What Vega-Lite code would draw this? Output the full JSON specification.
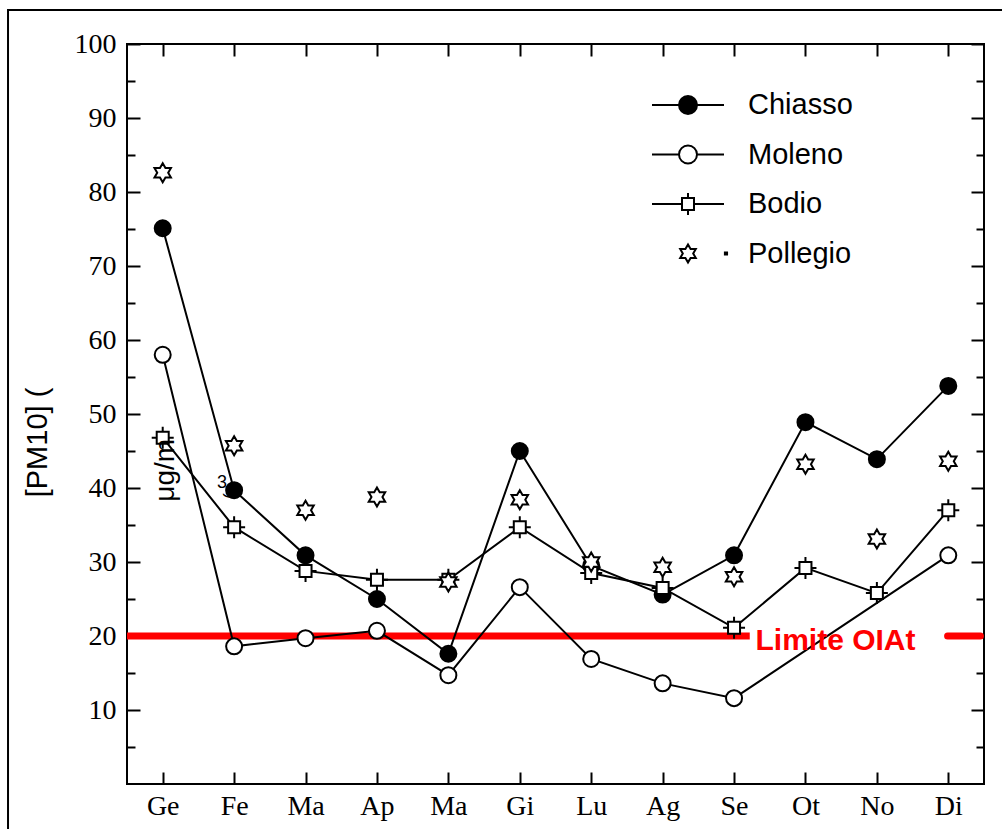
{
  "$schema": "https://vega.github.io/schema/vega-lite/v6.json",
  "width": 857,
  "height": 740,
  "autosize": {"type": "none"},
  "padding": {"left": 127, "top": 44, "right": 18, "bottom": 45},
  "background": "white",
  "config": {
    "view": {"stroke": "black", "strokeWidth": 2},
    "axis": {"domain": false, "grid": false, "tickColor": "black", "tickWidth": 2, "labelColor": "black", "labelFont": "Liberation Serif", "labelFontSize": 28, "titleColor": "black"},
    "legend": {"title": null, "orient": "none", "legendX": 542, "legendY": 42, "symbolSize": 1296, "symbolStrokeWidth": 2, "symbolStrokeColor": "black", "symbolOpacity": 1, "labelFont": "Liberation Sans", "labelFontSize": 29, "labelColor": "black", "labelOffset": 41, "rowPadding": 15.5, "labelLimit": 300}
  },
  "data": {"values": [
    {"s": "Chiasso", "m": 1, "v": 75.1}, {"s": "Chiasso", "m": 2, "v": 39.7}, {"s": "Chiasso", "m": 3, "v": 30.9}, {"s": "Chiasso", "m": 4, "v": 25.0}, {"s": "Chiasso", "m": 5, "v": 17.6}, {"s": "Chiasso", "m": 6, "v": 45.0}, {"s": "Chiasso", "m": 7, "v": 29.5}, {"s": "Chiasso", "m": 8, "v": 25.6}, {"s": "Chiasso", "m": 9, "v": 30.9}, {"s": "Chiasso", "m": 10, "v": 48.9}, {"s": "Chiasso", "m": 11, "v": 43.9}, {"s": "Chiasso", "m": 12, "v": 53.8},
    {"s": "Moleno", "m": 1, "v": 58.0}, {"s": "Moleno", "m": 2, "v": 18.6}, {"s": "Moleno", "m": 3, "v": 19.7}, {"s": "Moleno", "m": 4, "v": 20.7}, {"s": "Moleno", "m": 5, "v": 14.7}, {"s": "Moleno", "m": 6, "v": 26.6}, {"s": "Moleno", "m": 7, "v": 16.9}, {"s": "Moleno", "m": 8, "v": 13.6}, {"s": "Moleno", "m": 9, "v": 11.6}, {"s": "Moleno", "m": 12, "v": 30.9},
    {"s": "Bodio", "m": 1, "v": 46.8}, {"s": "Bodio", "m": 2, "v": 34.7}, {"s": "Bodio", "m": 3, "v": 28.8}, {"s": "Bodio", "m": 4, "v": 27.6}, {"s": "Bodio", "m": 5, "v": 27.6}, {"s": "Bodio", "m": 6, "v": 34.7}, {"s": "Bodio", "m": 7, "v": 28.5}, {"s": "Bodio", "m": 8, "v": 26.5}, {"s": "Bodio", "m": 9, "v": 21.1}, {"s": "Bodio", "m": 10, "v": 29.2}, {"s": "Bodio", "m": 11, "v": 25.8}, {"s": "Bodio", "m": 12, "v": 37.0},
    {"s": "Pollegio", "m": 1, "v": 82.6}, {"s": "Pollegio", "m": 2, "v": 45.7}, {"s": "Pollegio", "m": 3, "v": 37.0}, {"s": "Pollegio", "m": 4, "v": 38.8}, {"s": "Pollegio", "m": 5, "v": 27.3}, {"s": "Pollegio", "m": 6, "v": 38.4}, {"s": "Pollegio", "m": 7, "v": 30.0}, {"s": "Pollegio", "m": 8, "v": 29.3}, {"s": "Pollegio", "m": 9, "v": 28.0}, {"s": "Pollegio", "m": 10, "v": 43.2}, {"s": "Pollegio", "m": 11, "v": 33.1}, {"s": "Pollegio", "m": 12, "v": 43.6}
  ]},
  "layer": [
    {
      "data": {"values": [{}]},
      "mark": {"type": "rect", "filled": false, "stroke": "black", "strokeWidth": 2, "clip": false},
      "encoding": {
        "x": {"datum": -1.166, "type": "quantitative", "axis": null},
        "x2": {"datum": 13.6},
        "y": {"datum": 104.6, "type": "quantitative", "axis": null},
        "y2": {"datum": -10}
      }
    },
    {
      "data": {"values": [{}]},
      "mark": {"type": "rule", "color": "#ff0000", "strokeWidth": 7, "strokeCap": "butt"},
      "encoding": {
        "x": {"datum": 0.5, "type": "quantitative", "axis": null},
        "x2": {"datum": 9.22},
        "y": {"datum": 20, "type": "quantitative", "axis": null}
      }
    },
    {
      "data": {"values": [{}]},
      "mark": {"type": "rule", "color": "#ff0000", "strokeWidth": 7, "strokeCap": "round"},
      "encoding": {
        "x": {"datum": 11.99, "type": "quantitative", "axis": null},
        "x2": {"datum": 12.45},
        "y": {"datum": 20, "type": "quantitative", "axis": null}
      }
    },
    {
      "transform": [{"filter": "datum.s !== 'Pollegio'"}],
      "mark": {"type": "line", "stroke": "black", "strokeWidth": 2},
      "encoding": {
        "x": {"field": "m", "type": "quantitative",
          "scale": {"domain": [0.5, 12.5], "nice": false, "zero": false},
          "axis": {"orient": "bottom", "values": [1,2,3,4,5,6,7,8,9,10,11,12], "labelExpr": "['Ge','Fe','Ma','Ap','Ma','Gi','Lu','Ag','Se','Ot','No','Di'][datum.value-1]", "tickSize": -12, "labelPadding": 20, "title": null}},
        "y": {"field": "v", "type": "quantitative",
          "scale": {"domain": [0, 100], "nice": false, "zero": false},
          "axis": {"orient": "left", "values": [5,10,15,20,25,30,35,40,45,50,55,60,65,70,75,80,85,90,95,100], "labelExpr": "datum.value % 10 === 0 ? datum.label : ''", "tickSize": {"condition": {"test": "datum.value % 10 === 0", "value": -13}, "value": -8}, "labelPadding": 24,
            "title": "[PM10] (", "titleFont": "Liberation Sans", "titleFontSize": 29, "titleFontWeight": "normal", "titleAngle": 270, "titleX": -90, "titleY": 398, "titleBaseline": "middle", "titleAlign": "center"}},
        "detail": {"field": "s", "type": "nominal"}
      }
    },
    {
      "mark": {"type": "point", "filled": true, "stroke": "black", "strokeWidth": 2, "size": 400, "opacity": 1},
      "encoding": {
        "x": {"field": "m", "type": "quantitative",
          "axis": {"orient": "top", "values": [1,2,3,4,5,6,7,8,9,10,11,12], "labels": false, "tickSize": -12, "title": null}},
        "y": {"field": "v", "type": "quantitative",
          "axis": {"orient": "right", "values": [5,10,15,20,25,30,35,40,45,50,55,60,65,70,75,80,85,90,95,100], "labels": false, "tickSize": {"condition": {"test": "datum.value % 10 === 0", "value": -13}, "value": -8}, "title": null}},
        "shape": {"field": "s", "type": "nominal", "legend": null,
          "scale": {"domain": ["Chiasso", "Moleno", "Bodio", "Pollegio"],
            "range": [
              "M -0.8 0 A 0.8 0.8 0 1 0 0.8 0 A 0.8 0.8 0 1 0 -0.8 0 Z",
              "M -0.8 0 A 0.8 0.8 0 1 0 0.8 0 A 0.8 0.8 0 1 0 -0.8 0 Z",
              "M -1.1 0 H -0.6 M 0.6 0 H 1.1 M 0 -1.1 V -0.6 M 0 0.6 V 1.1 M -0.6 -0.6 H 0.6 V 0.6 H -0.6 Z",
              "M 0 -0.95 L 0.274 -0.475 L 0.823 -0.475 L 0.548 0 L 0.823 0.475 L 0.274 0.475 L 0 0.95 L -0.274 0.475 L -0.823 0.475 L -0.548 0 L -0.823 -0.475 L -0.274 -0.475 Z"
            ]}},
        "fill": {"field": "s", "type": "nominal", "legend": null,
          "scale": {"domain": ["Chiasso", "Moleno", "Bodio", "Pollegio"], "range": ["black", "white", "white", "white"]}}
      }
    },
    {
      "transform": [{"filter": "false"}],
      "mark": {"type": "point", "filled": true, "strokeWidth": 2, "opacity": 1},
      "encoding": {
        "shape": {"field": "s", "type": "nominal",
          "scale": {"domain": ["Chiasso", "Moleno", "Bodio", "Pollegio"],
            "range": [
              "M -2 0 H -0.5 M 0.5 0 H 2 M -0.5 0 A 0.5 0.5 0 1 0 0.5 0 A 0.5 0.5 0 1 0 -0.5 0 Z",
              "M -2 0 H -0.5 M 0.5 0 H 2 M -0.5 0 A 0.5 0.5 0 1 0 0.5 0 A 0.5 0.5 0 1 0 -0.5 0 Z",
              "M -2 0 H -0.333 M 0.333 0 H 2 M 0 -0.611 V -0.333 M 0 0.333 V 0.611 M -0.333 -0.333 H 0.333 V 0.333 H -0.333 Z",
              "M 0 -0.5 L 0.144 -0.25 L 0.433 -0.25 L 0.289 0 L 0.433 0.25 L 0.144 0.25 L 0 0.5 L -0.144 0.25 L -0.433 0.25 L -0.289 0 L -0.433 -0.25 L -0.144 -0.25 Z M 2.05 -0.06 H 2.17 V 0.06 H 2.05 Z"
            ]}},
        "fill": {"field": "s", "type": "nominal",
          "scale": {"domain": ["Chiasso", "Moleno", "Bodio", "Pollegio"], "range": ["black", "white", "white", "white"]}},
        "stroke": {"field": "s", "type": "nominal",
          "scale": {"domain": ["Chiasso", "Moleno", "Bodio", "Pollegio"], "range": ["black", "black", "black", "black"]}}
      }
    },
    {
      "data": {"values": [{}]},
      "mark": {"type": "text", "text": "Limite OIAt", "color": "#ff0000", "font": "Liberation Sans", "fontSize": 30, "fontWeight": "bold", "align": "left", "baseline": "middle", "dy": 5},
      "encoding": {
        "x": {"datum": 9.3, "type": "quantitative", "axis": null},
        "y": {"datum": 20, "type": "quantitative", "axis": null}
      }
    },
    {
      "data": {"values": [{}]},
      "mark": {"type": "text", "text": "μg/m", "color": "black", "font": "Liberation Sans", "fontSize": 28, "angle": 270, "align": "center", "baseline": "middle"},
      "encoding": {
        "x": {"datum": 1.04, "type": "quantitative", "axis": null},
        "y": {"datum": 42.4, "type": "quantitative", "axis": null}
      }
    },
    {
      "data": {"values": [{}]},
      "mark": {"type": "text", "text": "3", "color": "black", "font": "Liberation Sans", "fontSize": 18, "align": "center", "baseline": "middle"},
      "encoding": {
        "x": {"datum": 1.83, "type": "quantitative", "axis": null},
        "y": {"datum": 40.7, "type": "quantitative", "axis": null}
      }
    },
    {
      "data": {"values": [{}]},
      "mark": {"type": "text", "text": ")", "color": "black", "font": "Liberation Sans", "fontSize": 18, "angle": 90, "align": "center", "baseline": "middle"},
      "encoding": {
        "x": {"datum": 1.97, "type": "quantitative", "axis": null},
        "y": {"datum": 38.9, "type": "quantitative", "axis": null}
      }
    }
  ],
  "resolve": {"scale": {"shape": "independent", "fill": "independent", "stroke": "independent"}, "axis": {"x": "independent", "y": "independent"}}
}
